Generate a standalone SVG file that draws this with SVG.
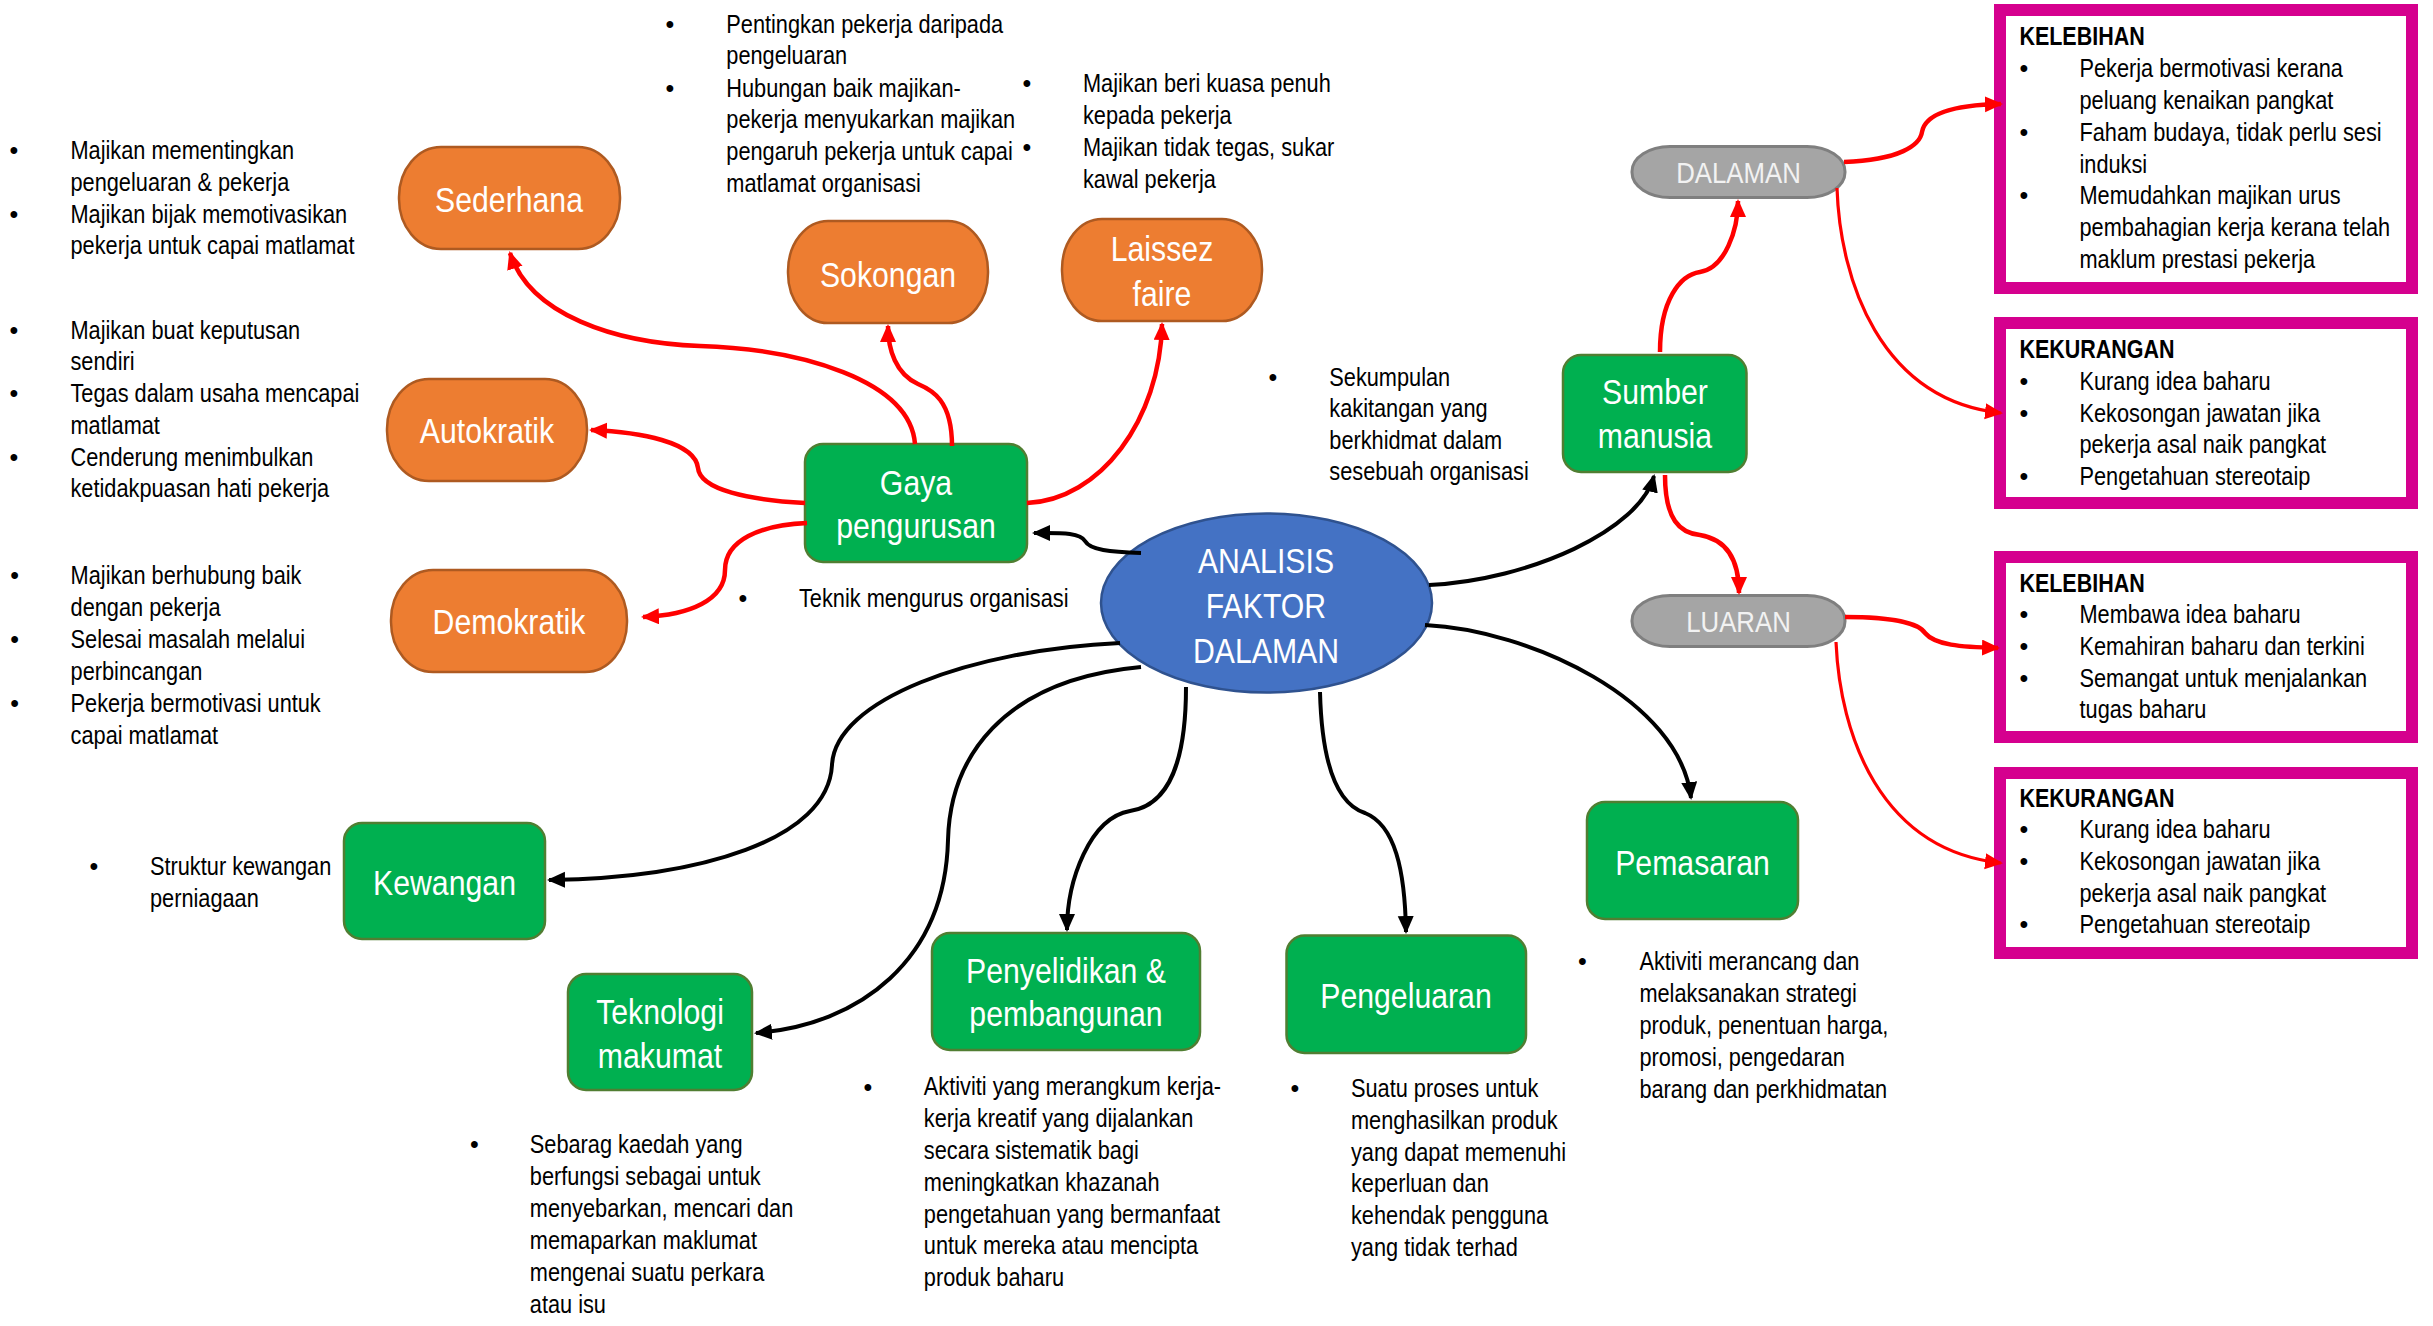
<svg xmlns="http://www.w3.org/2000/svg" width="2433" height="1326" viewBox="0 0 2433 1326">
<defs>
<style>
.bt{font-family:"Liberation Sans",Arial,sans-serif;font-size:25px;fill:#000}
.bu{font-family:"Liberation Sans",Arial,sans-serif;font-size:25px;fill:#000;text-anchor:middle}
.hd{font-family:"Liberation Sans",Arial,sans-serif;font-size:25px;font-weight:bold;fill:#000}
.nt{font-family:"Liberation Sans",Arial,sans-serif;font-size:36px;fill:#fff;text-anchor:middle}
.gt{font-family:"Liberation Sans",Arial,sans-serif;font-size:30px;fill:#f2f2f2;text-anchor:middle}
.or{fill:#ED7D31;stroke:#AE5A21;stroke-width:2.5}
.gr{fill:#00B050;stroke:#507E32;stroke-width:2.5}
.gy{fill:#A5A5A5;stroke:#7F7F7F;stroke-width:3}
.pk{fill:#fff;stroke:#D5008E;stroke-width:12}
.rc{fill:none;stroke:#FF0000;stroke-width:4.5}
.rt{fill:none;stroke:#FF0000;stroke-width:3.2}
.bc{fill:none;stroke:#000;stroke-width:4}
</style>
<marker id="ab" markerUnits="userSpaceOnUse" markerWidth="20" markerHeight="18" refX="16" refY="8" orient="auto" viewBox="0 0 20 18"><path d="M0,0 L18,8 L0,16 z" fill="#000"/></marker>
<marker id="ar" markerUnits="userSpaceOnUse" markerWidth="20" markerHeight="18" refX="16" refY="8" orient="auto" viewBox="0 0 20 18"><path d="M0,0 L18,8 L0,16 z" fill="#FF0000"/></marker>
</defs>
<rect width="2433" height="1326" fill="#fff"/>

<!-- centre -->
<g id="analisis">
<ellipse cx="1266.5" cy="603" rx="165.5" ry="89.5" fill="#4472C4" stroke="#2F528F" stroke-width="2.5"/>
<text class="nt" transform="translate(1266 572.7) scale(0.84 1)">ANALISIS</text>
<text class="nt" transform="translate(1266 617.7) scale(0.84 1)">FAKTOR</text>
<text class="nt" transform="translate(1266 662.7) scale(0.84 1)">DALAMAN</text>
</g>

<!-- orange nodes -->
<g id="sederhana"><rect class="or" x="399" y="147" width="221" height="102" rx="42" ry="50"/><text class="nt" transform="translate(509 211.7) scale(0.84 1)">Sederhana</text></g>
<g id="autokratik"><rect class="or" x="387" y="379" width="200" height="102" rx="42" ry="50"/><text class="nt" transform="translate(487 443) scale(0.84 1)">Autokratik</text></g>
<g id="demokratik"><rect class="or" x="391" y="570" width="236" height="102" rx="42" ry="50"/><text class="nt" transform="translate(509 634) scale(0.84 1)">Demokratik</text></g>
<g id="sokongan"><rect class="or" x="788" y="221" width="200" height="102" rx="40" ry="50"/><text class="nt" transform="translate(888 286.7) scale(0.84 1)">Sokongan</text></g>
<g id="laissez"><rect class="or" x="1062" y="219" width="200" height="102" rx="40" ry="50"/><text class="nt" transform="translate(1162 261) scale(0.84 1)">Laissez</text><text class="nt" transform="translate(1162 305.7) scale(0.84 1)">faire</text></g>

<!-- green nodes -->
<g id="gaya"><rect class="gr" x="805" y="444" width="222" height="118" rx="18"/><text class="nt" transform="translate(916 495) scale(0.84 1)">Gaya</text><text class="nt" transform="translate(916 538) scale(0.84 1)">pengurusan</text></g>
<g id="kewangan"><rect class="gr" x="344" y="823" width="201" height="116" rx="18"/><text class="nt" transform="translate(444.5 895) scale(0.84 1)">Kewangan</text></g>
<g id="teknologi"><rect class="gr" x="568" y="974" width="184" height="116" rx="18"/><text class="nt" transform="translate(660 1024) scale(0.84 1)">Teknologi</text><text class="nt" transform="translate(660 1067.6) scale(0.84 1)">makumat</text></g>
<g id="penyelidikan"><rect class="gr" x="932" y="933" width="268" height="117" rx="18"/><text class="nt" transform="translate(1066 983) scale(0.84 1)">Penyelidikan &amp;</text><text class="nt" transform="translate(1066 1026) scale(0.84 1)">pembangunan</text></g>
<g id="pengeluaran"><rect class="gr" x="1286.5" y="935.5" width="239.5" height="117.5" rx="18"/><text class="nt" transform="translate(1406 1008) scale(0.84 1)">Pengeluaran</text></g>
<g id="pemasaran"><rect class="gr" x="1587" y="802" width="211" height="117" rx="18"/><text class="nt" transform="translate(1692.5 875) scale(0.84 1)">Pemasaran</text></g>
<g id="sumber"><rect class="gr" x="1563" y="355" width="183.5" height="117" rx="18"/><text class="nt" transform="translate(1655 404) scale(0.84 1)">Sumber</text><text class="nt" transform="translate(1655 448.3) scale(0.84 1)">manusia</text></g>

<!-- grey nodes -->
<g id="dalaman"><rect class="gy" x="1632" y="146.5" width="213" height="51" rx="38" ry="25"/><text class="gt" transform="translate(1738.5 183.3) scale(0.86 1)">DALAMAN</text></g>
<g id="luaran"><rect class="gy" x="1632" y="595.5" width="213" height="51" rx="38" ry="25"/><text class="gt" transform="translate(1738.5 631.7) scale(0.86 1)">LUARAN</text></g>

<!-- pink boxes -->
<g id="kelebihan1">
<rect class="pk" x="2000" y="10" width="412" height="278"/>
<text class="hd" transform="translate(2019.4 0) scale(0.86 1)"><tspan x="0" y="45">KELEBIHAN</tspan></text>
<text class="bu" x="2024" y="77.3">•</text><text class="bu" x="2024" y="140.7">•</text><text class="bu" x="2024" y="204">•</text>
<text class="bt" transform="translate(2079.5 0) scale(0.87 1)"><tspan x="0" y="77.3">Pekerja bermotivasi kerana</tspan><tspan x="0" y="109.3">peluang kenaikan pangkat</tspan><tspan x="0" y="140.7">Faham budaya, tidak perlu sesi</tspan><tspan x="0" y="172.7">induksi</tspan><tspan x="0" y="204">Memudahkan majikan urus</tspan><tspan x="0" y="236">pembahagian kerja kerana telah</tspan><tspan x="0" y="267.7">maklum prestasi pekerja</tspan></text>
</g>
<g id="kekurangan1">
<rect class="pk" x="2000" y="323" width="412" height="180"/>
<text class="hd" transform="translate(2019.4 0) scale(0.86 1)"><tspan x="0" y="358.3">KEKURANGAN</tspan></text>
<text class="bu" x="2024" y="390">•</text><text class="bu" x="2024" y="421.7">•</text><text class="bu" x="2024" y="485">•</text>
<text class="bt" transform="translate(2079.5 0) scale(0.87 1)"><tspan x="0" y="390">Kurang idea baharu</tspan><tspan x="0" y="421.7">Kekosongan jawatan jika</tspan><tspan x="0" y="453.3">pekerja asal naik pangkat</tspan><tspan x="0" y="485">Pengetahuan stereotaip</tspan></text>
</g>
<g id="kelebihan2">
<rect class="pk" x="2000" y="557" width="412" height="180"/>
<text class="hd" transform="translate(2019.4 0) scale(0.86 1)"><tspan x="0" y="591.7">KELEBIHAN</tspan></text>
<text class="bu" x="2024" y="623.3">•</text><text class="bu" x="2024" y="655">•</text><text class="bu" x="2024" y="686.7">•</text>
<text class="bt" transform="translate(2079.5 0) scale(0.87 1)"><tspan x="0" y="623.3">Membawa idea baharu</tspan><tspan x="0" y="655">Kemahiran baharu dan terkini</tspan><tspan x="0" y="686.7">Semangat untuk menjalankan</tspan><tspan x="0" y="718.3">tugas baharu</tspan></text>
</g>
<g id="kekurangan2">
<rect class="pk" x="2000" y="773" width="412" height="180"/>
<text class="hd" transform="translate(2019.4 0) scale(0.86 1)"><tspan x="0" y="806.7">KEKURANGAN</tspan></text>
<text class="bu" x="2024" y="838.3">•</text><text class="bu" x="2024" y="870">•</text><text class="bu" x="2024" y="933.3">•</text>
<text class="bt" transform="translate(2079.5 0) scale(0.87 1)"><tspan x="0" y="838.3">Kurang idea baharu</tspan><tspan x="0" y="870">Kekosongan jawatan jika</tspan><tspan x="0" y="901.7">pekerja asal naik pangkat</tspan><tspan x="0" y="933.3">Pengetahuan stereotaip</tspan></text>
</g>

<!-- description texts -->
<g id="desc-sederhana">
<text class="bu" x="14" y="159.3">•</text><text class="bu" x="14" y="222.7">•</text>
<text class="bt" transform="translate(70.5 0) scale(0.87 1)"><tspan x="0" y="159.3">Majikan mementingkan</tspan><tspan x="0" y="190.7">pengeluaran &amp; pekerja</tspan><tspan x="0" y="222.7">Majikan bijak memotivasikan</tspan><tspan x="0" y="254">pekerja untuk capai matlamat</tspan></text>
</g>
<g id="desc-autokratik">
<text class="bu" x="14" y="339.3">•</text><text class="bu" x="14" y="402">•</text><text class="bu" x="14" y="465.7">•</text>
<text class="bt" transform="translate(70.5 0) scale(0.87 1)"><tspan x="0" y="339.3">Majikan buat keputusan</tspan><tspan x="0" y="370">sendiri</tspan><tspan x="0" y="402">Tegas dalam usaha mencapai</tspan><tspan x="0" y="434">matlamat</tspan><tspan x="0" y="465.7">Cenderung menimbulkan</tspan><tspan x="0" y="497.3">ketidakpuasan hati pekerja</tspan></text>
</g>
<g id="desc-demokratik">
<text class="bu" x="14.6" y="584">•</text><text class="bu" x="14.6" y="648">•</text><text class="bu" x="14.6" y="712">•</text>
<text class="bt" transform="translate(70.6 0) scale(0.87 1)"><tspan x="0" y="584">Majikan berhubung baik</tspan><tspan x="0" y="616">dengan pekerja</tspan><tspan x="0" y="648">Selesai masalah melalui</tspan><tspan x="0" y="680">perbincangan</tspan><tspan x="0" y="712">Pekerja bermotivasi untuk</tspan><tspan x="0" y="744">capai matlamat</tspan></text>
</g>
<g id="desc-sokongan">
<text class="bu" x="670" y="32.7">•</text><text class="bu" x="670" y="96.7">•</text>
<text class="bt" transform="translate(726.3 0) scale(0.87 1)"><tspan x="0" y="32.7">Pentingkan pekerja daripada</tspan><tspan x="0" y="64.3">pengeluaran</tspan><tspan x="0" y="96.7">Hubungan baik majikan-</tspan><tspan x="0" y="128.3">pekerja menyukarkan majikan</tspan><tspan x="0" y="160">pengaruh pekerja untuk capai</tspan><tspan x="0" y="192.3">matlamat organisasi</tspan></text>
</g>
<g id="desc-laissez">
<text class="bu" x="1027" y="92.3">•</text><text class="bu" x="1027" y="156">•</text>
<text class="bt" transform="translate(1083 0) scale(0.87 1)"><tspan x="0" y="92.3">Majikan beri kuasa penuh</tspan><tspan x="0" y="124">kepada pekerja</tspan><tspan x="0" y="156">Majikan tidak tegas, sukar</tspan><tspan x="0" y="187.7">kawal pekerja</tspan></text>
</g>
<g id="desc-sumber">
<text class="bu" x="1273" y="386">•</text>
<text class="bt" transform="translate(1329.3 0) scale(0.87 1)"><tspan x="0" y="386">Sekumpulan</tspan><tspan x="0" y="417.5">kakitangan yang</tspan><tspan x="0" y="449">berkhidmat dalam</tspan><tspan x="0" y="480.5">sesebuah organisasi</tspan></text>
</g>
<g id="desc-gaya">
<text class="bu" x="743" y="606.7">•</text>
<text class="bt" transform="translate(799 0) scale(0.87 1)"><tspan x="0" y="606.7">Teknik mengurus organisasi</tspan></text>
</g>
<g id="desc-kewangan">
<text class="bu" x="94" y="875">•</text>
<text class="bt" transform="translate(150 0) scale(0.87 1)"><tspan x="0" y="875">Struktur kewangan</tspan><tspan x="0" y="906.6">perniagaan</tspan></text>
</g>
<g id="desc-teknologi">
<text class="bu" x="474.4" y="1153">•</text>
<text class="bt" transform="translate(529.8 0) scale(0.87 1)"><tspan x="0" y="1153">Sebarag kaedah yang</tspan><tspan x="0" y="1185">berfungsi sebagai untuk</tspan><tspan x="0" y="1217.5">menyebarkan, mencari dan</tspan><tspan x="0" y="1249.5">memaparkan maklumat</tspan><tspan x="0" y="1281.5">mengenai suatu perkara</tspan><tspan x="0" y="1313.5">atau isu</tspan></text>
</g>
<g id="desc-penyelidikan">
<text class="bu" x="868" y="1095.5">•</text>
<text class="bt" transform="translate(923.8 0) scale(0.87 1)"><tspan x="0" y="1095.5">Aktiviti yang merangkum kerja-</tspan><tspan x="0" y="1127.3">kerja kreatif yang dijalankan</tspan><tspan x="0" y="1159.1">secara sistematik bagi</tspan><tspan x="0" y="1190.9">meningkatkan khazanah</tspan><tspan x="0" y="1222.7">pengetahuan yang bermanfaat</tspan><tspan x="0" y="1254.5">untuk mereka atau mencipta</tspan><tspan x="0" y="1286.3">produk baharu</tspan></text>
</g>
<g id="desc-pengeluaran">
<text class="bu" x="1295" y="1097">•</text>
<text class="bt" transform="translate(1351 0) scale(0.87 1)"><tspan x="0" y="1097">Suatu proses untuk</tspan><tspan x="0" y="1128.8">menghasilkan produk</tspan><tspan x="0" y="1160.6">yang dapat memenuhi</tspan><tspan x="0" y="1192.4">keperluan dan</tspan><tspan x="0" y="1224.2">kehendak pengguna</tspan><tspan x="0" y="1256">yang tidak terhad</tspan></text>
</g>
<g id="desc-pemasaran">
<text class="bu" x="1582.5" y="970">•</text>
<text class="bt" transform="translate(1639.4 0) scale(0.87 1)"><tspan x="0" y="970">Aktiviti merancang dan</tspan><tspan x="0" y="1002">melaksanakan strategi</tspan><tspan x="0" y="1034">produk, penentuan harga,</tspan><tspan x="0" y="1066">promosi, pengedaran</tspan><tspan x="0" y="1098">barang dan perkhidmatan</tspan></text>
</g>

<!-- connectors -->
<g id="connectors">
<path class="rc" marker-end="url(#ar)" d="M915,444 C910,380 800,349 700,346 C615,343 530,315 510,253"/>
<path class="rc" marker-end="url(#ar)" d="M952,446 C952,400 932,390 918,384 C896,374 888,350 888,326"/>
<path class="rc" marker-end="url(#ar)" d="M1027,503 C1100,500 1160,420 1162,324"/>
<path class="rc" marker-end="url(#ar)" d="M805,503 C750,500 700,490 698,468 C695,442 640,432 591,430"/>
<path class="rc" marker-end="url(#ar)" d="M807,523 C760,525 725,540 725,570 C725,600 690,615 643,617"/>
<path class="rc" marker-end="url(#ar)" d="M1660,352 C1660,300 1680,275 1700,272 C1725,268 1738,230 1738,201"/>
<path class="rc" marker-end="url(#ar)" d="M1665,475 C1665,520 1680,533 1700,535 C1730,540 1739,565 1739,593"/>
<path class="rc" marker-end="url(#ar)" d="M1844,162 C1900,160 1920,145 1922,132 C1925,115 1950,105 2001,104"/>
<path class="rt" marker-end="url(#ar)" d="M1837,188 C1840,280 1880,400 2001,413"/>
<path class="rc" marker-end="url(#ar)" d="M1845,617 C1900,617 1920,625 1925,633 C1935,645 1960,647 1998,648"/>
<path class="rt" marker-end="url(#ar)" d="M1836,642 C1840,735 1880,850 2001,863"/>
<path class="bc" marker-end="url(#ab)" d="M1141,553 C1110,552 1090,550 1085,541 C1080,532 1060,533 1034,533"/>
<path class="bc" marker-end="url(#ab)" d="M1429,585 C1530,580 1640,530 1654,476"/>
<path class="bc" marker-end="url(#ab)" d="M1120,643 C970,650 835,700 832,765 C828,840 700,878 549,880"/>
<path class="bc" marker-end="url(#ab)" d="M1141,667 C1000,680 950,760 948,840 C945,960 860,1025 756,1033"/>
<path class="bc" marker-end="url(#ab)" d="M1186,687 C1186,760 1170,805 1130,811 C1090,818 1067,880 1067,930"/>
<path class="bc" marker-end="url(#ab)" d="M1320,692 C1322,770 1340,805 1365,813 C1395,825 1405,870 1406,932"/>
<path class="bc" marker-end="url(#ab)" d="M1425,625 C1530,630 1680,700 1691,798"/>
</g>
</svg>
